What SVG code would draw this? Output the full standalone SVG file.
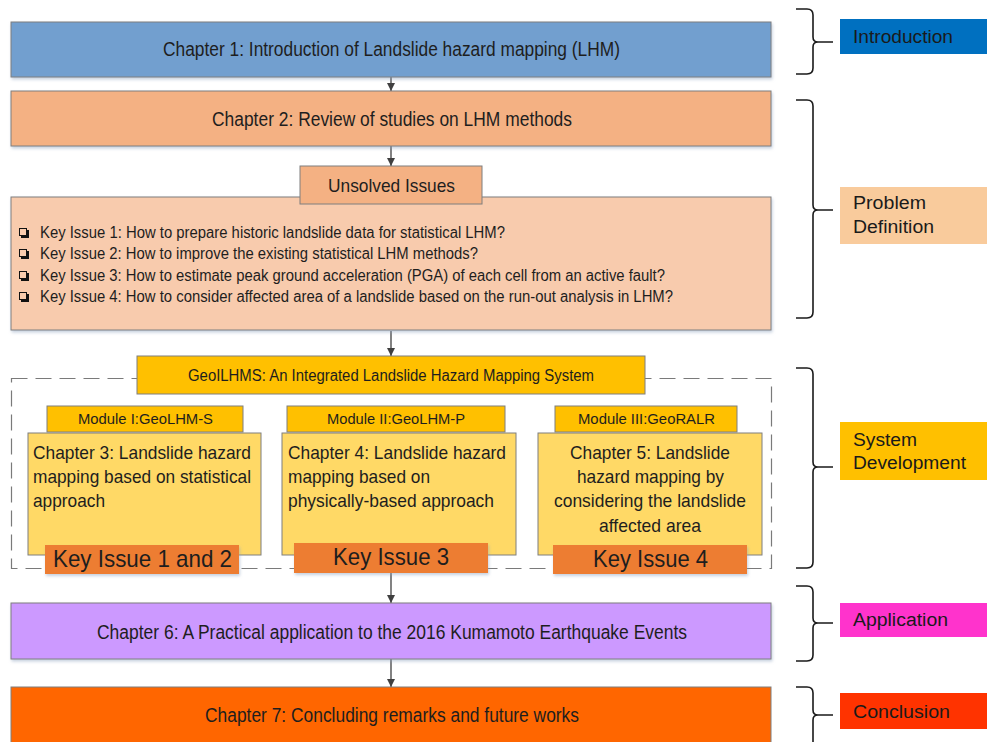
<svg xmlns="http://www.w3.org/2000/svg" width="987" height="742" viewBox="0 0 987 742">
  <style>
    .box { stroke: #7f7f7f; stroke-width: 1; }
    .t { font-family: "Liberation Sans", Arial, sans-serif; fill: #1e1e1e; }
    .ch { font-size: 20px; }
    .iss { font-size: 16px; }
    .mod { font-size: 15px; }
    .sub { font-size: 19px; }
    .key { font-size: 24px; }
    .lab { font-size: 18px; fill: #1a1a1a; }
    .chk { fill: none; stroke: #111; stroke-width: 1; }
    .chs { fill: none; stroke: #111; stroke-width: 2; }
    .brace { fill: none; stroke: #1a1a1a; stroke-width: 1.6; }
    .link { stroke: #404040; stroke-width: 1.3; fill: none; marker-end: url(#arr); }
  </style>
  <defs>
    <marker id="arr" viewBox="0 0 10 10" refX="10" refY="5" markerWidth="8" markerHeight="8" markerUnits="userSpaceOnUse" orient="auto">
      <path d="M0,0 L10,5 L0,10 Z" fill="#404040"/>
    </marker>
    <filter id="sh" x="-5%" y="-20%" width="110%" height="150%">
      <feDropShadow dx="1" dy="2" stdDeviation="1.5" flood-color="#8fa3c0" flood-opacity="0.5"/>
    </filter>
    <!-- shadowed checkbox bullet -->
    <g id="cb">
      <rect class="chk" x="0.5" y="0.5" width="7" height="7"/>
      <path class="chs" d="M2,9 L9,9 L9,2"/>
    </g>
  </defs>

  <rect width="987" height="742" fill="#ffffff"/>

  <!-- system frame -->
  <rect x="11.5" y="378.5" width="760" height="190" fill="none" stroke="#7a7a7a" stroke-width="1.2" stroke-dasharray="16 8"/>

  <!-- connectors -->
  <g id="connectors">
    <line class="link" x1="391" y1="77" x2="391" y2="91"/>
    <line class="link" x1="391" y1="146" x2="391" y2="166"/>
    <line class="link" x1="391" y1="331" x2="391" y2="356"/>
    <line class="link" x1="391" y1="573" x2="391" y2="603"/>
    <line class="link" x1="391" y1="659" x2="391" y2="687"/>
  </g>

  <g id="ch1">
    <rect class="box" x="11" y="22" width="760" height="55" fill="#729fcf" filter="url(#sh)"/>
    <text class="t ch" x="163" y="56" textLength="457" lengthAdjust="spacingAndGlyphs">Chapter 1: Introduction of Landslide hazard mapping (LHM)</text>
  </g>

  <g id="ch2">
    <rect class="box" x="11" y="91" width="760" height="55" fill="#f4b183" filter="url(#sh)"/>
    <text class="t ch" x="212" y="126" textLength="360" lengthAdjust="spacingAndGlyphs">Chapter 2: Review of studies on LHM methods</text>
  </g>

  <g id="issues">
    <rect class="box" x="11" y="197" width="760" height="133" fill="#f8cbad" filter="url(#sh)"/>
    <use href="#cb" x="19" y="228"/>
    <use href="#cb" x="19" y="249"/>
    <use href="#cb" x="19" y="271"/>
    <use href="#cb" x="19" y="292"/>
    <text class="t iss" x="40" y="238" textLength="465" lengthAdjust="spacingAndGlyphs">Key Issue 1: How to prepare historic landslide data for statistical LHM?</text>
    <text class="t iss" x="40" y="259" textLength="438" lengthAdjust="spacingAndGlyphs">Key Issue 2: How to improve the existing statistical LHM methods?</text>
    <text class="t iss" x="40" y="281" textLength="625" lengthAdjust="spacingAndGlyphs">Key Issue 3: How to estimate peak ground acceleration (PGA) of each cell from an active fault?</text>
    <text class="t iss" x="40" y="302" textLength="633" lengthAdjust="spacingAndGlyphs">Key Issue 4: How to consider affected area of a landslide based on the run-out analysis in LHM?</text>
  </g>

  <g id="unsolved">
    <rect class="box" x="300" y="166" width="182" height="38" fill="#f4b183"/>
    <text class="t" font-size="19" x="328" y="192" textLength="127" lengthAdjust="spacingAndGlyphs">Unsolved Issues</text>
  </g>

  <g id="geoilhms">
    <rect class="box" x="137" y="356" width="508" height="38" fill="#ffc000"/>
    <text class="t" font-size="16" x="188" y="381" textLength="406" lengthAdjust="spacingAndGlyphs">GeoILHMS: An Integrated Landslide Hazard Mapping System</text>
  </g>

  <g id="ch3">
    <rect class="box" x="28" y="433" width="233" height="122" fill="#ffd966"/>
    <rect class="box" x="47" y="406" width="196" height="26" fill="#ffc000"/>
    <text class="t mod" x="78" y="424" textLength="135" lengthAdjust="spacingAndGlyphs">Module I:GeoLHM-S</text>
    <text class="t sub" x="33" y="459" textLength="218" lengthAdjust="spacingAndGlyphs">Chapter 3: Landslide hazard</text>
    <text class="t sub" x="33" y="483" textLength="218" lengthAdjust="spacingAndGlyphs">mapping based on statistical</text>
    <text class="t sub" x="33" y="507" textLength="72" lengthAdjust="spacingAndGlyphs">approach</text>
    <rect x="45" y="545" width="194" height="29" fill="#ed7d31" filter="url(#sh)"/>
    <text class="t key" x="53" y="567" textLength="179" lengthAdjust="spacingAndGlyphs">Key Issue 1 and 2</text>
  </g>

  <g id="ch4">
    <rect class="box" x="282" y="433" width="234" height="122" fill="#ffd966"/>
    <rect class="box" x="287" y="406" width="218" height="26" fill="#ffc000"/>
    <text class="t mod" x="327" y="424" textLength="138" lengthAdjust="spacingAndGlyphs">Module II:GeoLHM-P</text>
    <text class="t sub" x="288" y="459" textLength="218" lengthAdjust="spacingAndGlyphs">Chapter 4: Landslide hazard</text>
    <text class="t sub" x="288" y="483" textLength="142" lengthAdjust="spacingAndGlyphs">mapping based on</text>
    <text class="t sub" x="288" y="507" textLength="206" lengthAdjust="spacingAndGlyphs">physically-based approach</text>
    <rect x="294" y="543" width="194" height="30" fill="#ed7d31" filter="url(#sh)"/>
    <text class="t key" x="333" y="565" textLength="116" lengthAdjust="spacingAndGlyphs">Key Issue 3</text>
  </g>

  <g id="ch5">
    <rect class="box" x="538" y="433" width="224" height="122" fill="#ffd966"/>
    <rect class="box" x="555" y="406" width="182" height="26" fill="#ffc000"/>
    <text class="t mod" x="578" y="424" textLength="137" lengthAdjust="spacingAndGlyphs">Module III:GeoRALR</text>
    <text class="t sub" x="570" y="459" textLength="160" lengthAdjust="spacingAndGlyphs">Chapter 5: Landslide</text>
    <text class="t sub" x="577" y="483" textLength="147" lengthAdjust="spacingAndGlyphs">hazard mapping by</text>
    <text class="t sub" x="554" y="507" textLength="192" lengthAdjust="spacingAndGlyphs">considering the landslide</text>
    <text class="t sub" x="599" y="532" textLength="102" lengthAdjust="spacingAndGlyphs">affected area</text>
    <rect x="553" y="545" width="194" height="29" fill="#ed7d31" filter="url(#sh)"/>
    <text class="t key" x="593" y="567" textLength="115" lengthAdjust="spacingAndGlyphs">Key Issue 4</text>
  </g>

  <g id="ch6">
    <rect class="box" x="11" y="603" width="760" height="56" fill="#cc99ff" filter="url(#sh)"/>
    <text class="t ch" x="97" y="639" textLength="590" lengthAdjust="spacingAndGlyphs">Chapter 6: A Practical application to the 2016 Kumamoto Earthquake Events</text>
  </g>

  <g id="ch7">
    <rect class="box" x="11" y="687" width="760" height="62" fill="#ff6600"/>
    <text class="t ch" x="205" y="722" textLength="374" lengthAdjust="spacingAndGlyphs">Chapter 7: Concluding remarks and future works</text>
  </g>

  <!-- part braces and labels -->
  <g id="part-intro">
    <path class="brace" d="M796,9 L807,9 Q813,9 813,15 L813,37 Q813,42 818,42 L833,42 M818,42 Q813,42 813,47 L813,68 Q813,74 807,74 L796,74"/>
    <rect x="840" y="19" width="147" height="35" fill="#0070c0"/>
    <text class="t lab" x="853" y="43" textLength="100" lengthAdjust="spacingAndGlyphs">Introduction</text>
  </g>

  <g id="part-problem">
    <path class="brace" d="M796,100 L807,100 Q813,100 813,106 L813,205 Q813,210 818,210 L833,210 M818,210 Q813,210 813,215 L813,312 Q813,318 807,318 L796,318"/>
    <rect x="840" y="187" width="147" height="57" fill="#f9cb9c"/>
    <text class="t lab" x="853" y="209" textLength="73" lengthAdjust="spacingAndGlyphs">Problem</text>
    <text class="t lab" x="853" y="233" textLength="81" lengthAdjust="spacingAndGlyphs">Definition</text>
  </g>

  <g id="part-system">
    <path class="brace" d="M796,368 L807,368 Q813,368 813,374 L813,462 Q813,467 818,467 L833,467 M818,467 Q813,467 813,472 L813,562 Q813,568 807,568 L796,568"/>
    <rect x="840" y="422" width="147" height="58" fill="#ffc000"/>
    <text class="t lab" x="853" y="446" textLength="64" lengthAdjust="spacingAndGlyphs">System</text>
    <text class="t lab" x="853" y="469" textLength="113" lengthAdjust="spacingAndGlyphs">Development</text>
  </g>

  <g id="part-application">
    <path class="brace" d="M796,586 L807,586 Q813,586 813,592 L813,618 Q813,623 818,623 L833,623 M818,623 Q813,623 813,628 L813,655 Q813,661 807,661 L796,661"/>
    <rect x="840" y="603" width="147" height="34" fill="#ff33cc"/>
    <text class="t lab" x="853" y="626" textLength="95" lengthAdjust="spacingAndGlyphs">Application</text>
  </g>

  <g id="part-conclusion">
    <path class="brace" d="M796,687 L807,687 Q813,687 813,693 L813,710 Q813,715 818,715 L833,715 M818,715 Q813,715 813,720 L813,742"/>
    <rect x="840" y="693" width="147" height="36" fill="#ff3300"/>
    <text class="t lab" x="853" y="718" textLength="97" lengthAdjust="spacingAndGlyphs">Conclusion</text>
  </g>
</svg>
